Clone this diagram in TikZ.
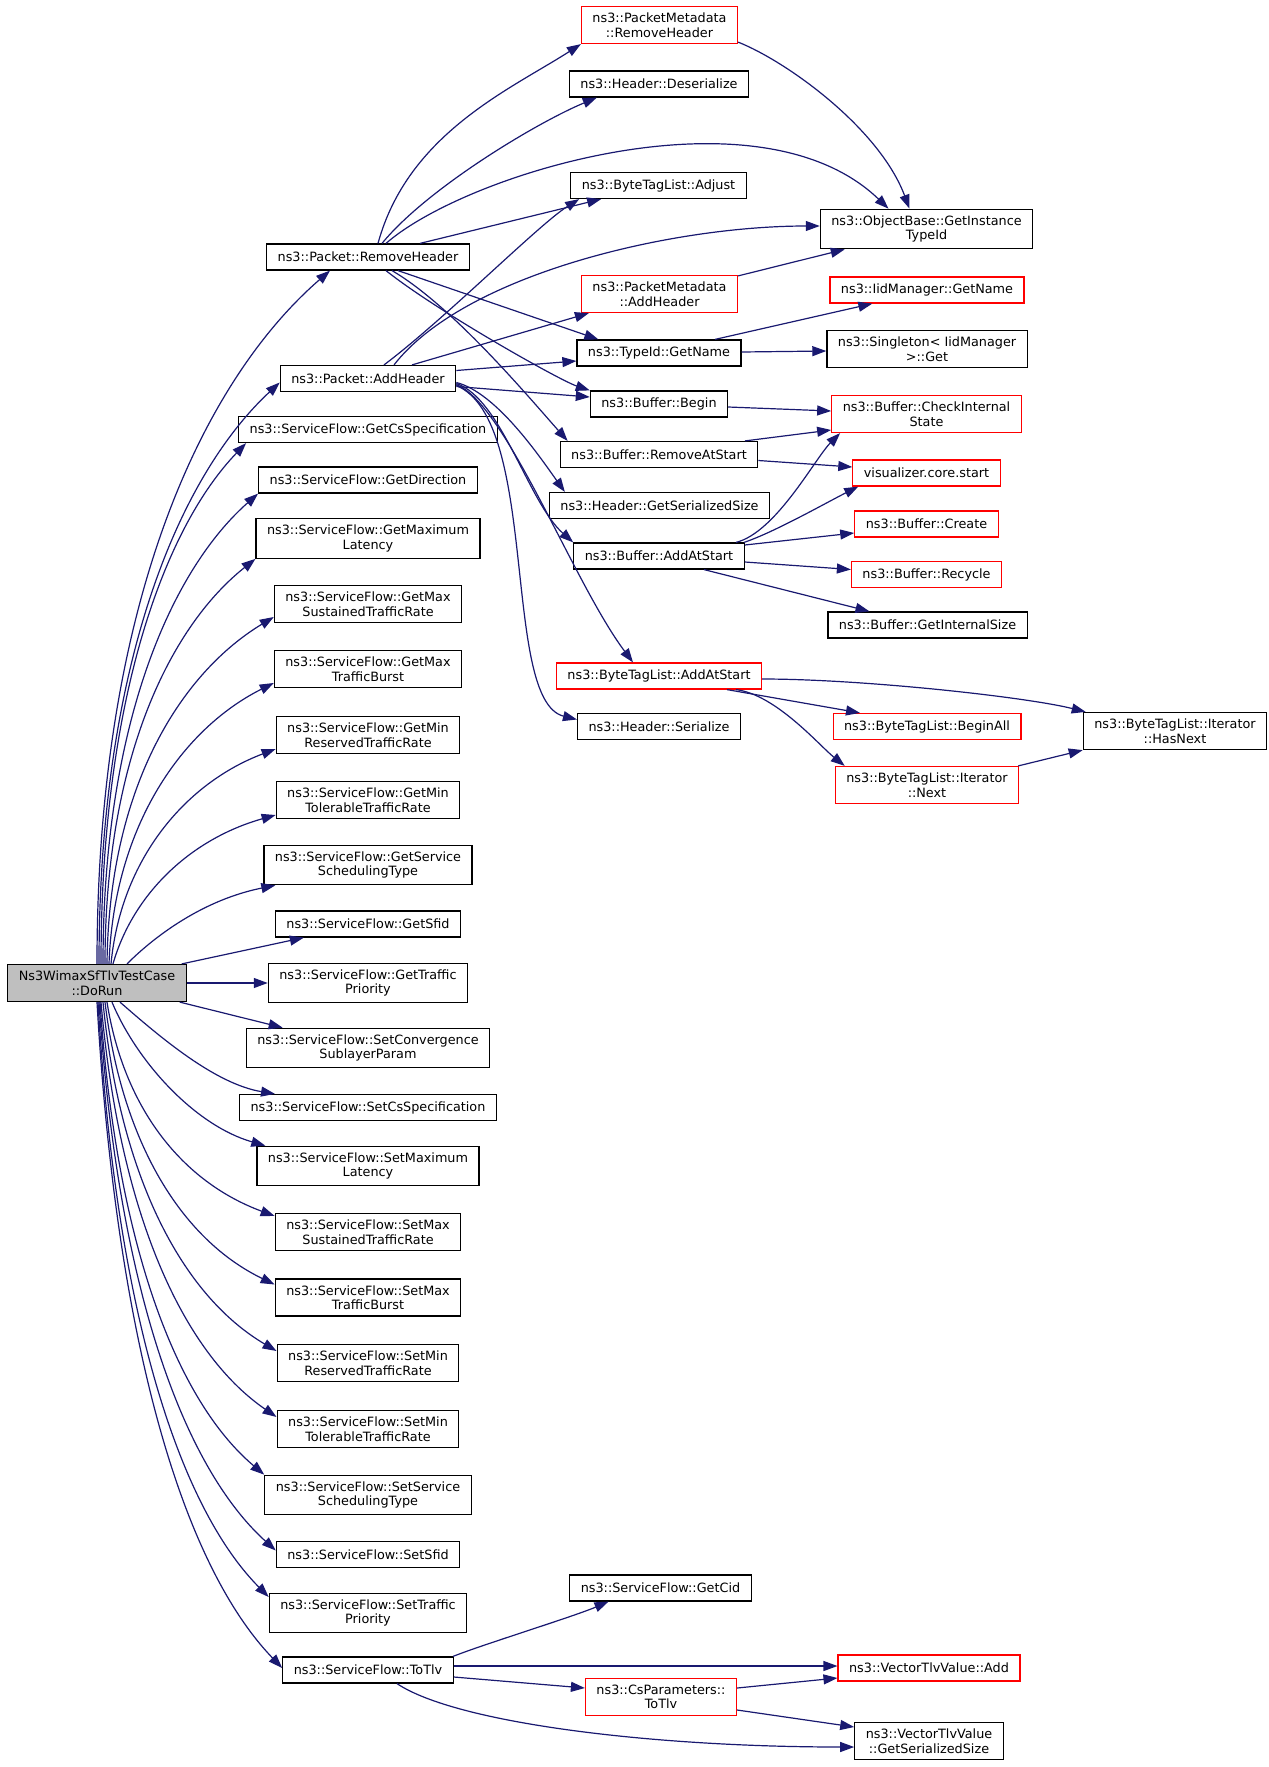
\documentclass[tikz,border=0pt]{standalone}
\usepackage{fontspec}
\setmainfont{DejaVu Sans}
\usepackage{tikz}
\usetikzlibrary{arrows.meta}

\definecolor{edgeblue}{HTML}{191970}
\definecolor{nodegray}{HTML}{BFBFBF}
\tikzset{
  fn/.style={draw=black, line width=1.2pt, fill=white, align=center,
    inner xsep=11pt, inner ysep=6.3pt, minimum height=26pt,
    font=\fontsize{12.8}{14.5}\selectfont},
  fnred/.style={fn, draw=red},
  edge/.style={draw=edgeblue, line width=1.2pt, -{Triangle[length=14pt,width=10pt]}},
}

\begin{document}
\begin{tikzpicture}[x=1pt,y=1pt]
\useasboundingbox (0,0) rectangle (1269,-1767);

% caller
\node[fn, fill=nodegray] (dorun) at (97,-983) {Ns3WimaxSfTlvTestCase\\::DoRun};

% first level
\node[fn] (prh) at (368,-257) {ns3::Packet::RemoveHeader};
\node[fn] (pah) at (368,-378.5) {ns3::Packet::AddHeader};
\node[fn] (gcs) at (368,-429.5) {ns3::ServiceFlow::GetCsSpecification};
\node[fn] (gdir) at (368,-480) {ns3::ServiceFlow::GetDirection};
\node[fn] (gmaxl) at (368,-538.5) {ns3::ServiceFlow::GetMaximum\\Latency};
\node[fn] (gmaxs) at (368,-604) {ns3::ServiceFlow::GetMax\\SustainedTrafficRate};
\node[fn] (gmaxb) at (368,-669) {ns3::ServiceFlow::GetMax\\TrafficBurst};
\node[fn] (gminr) at (368,-735) {ns3::ServiceFlow::GetMin\\ReservedTrafficRate};
\node[fn] (gmint) at (368,-800) {ns3::ServiceFlow::GetMin\\TolerableTrafficRate};
\node[fn] (gsvc) at (368,-865) {ns3::ServiceFlow::GetService\\SchedulingType};
\node[fn] (gsfid) at (368,-924) {ns3::ServiceFlow::GetSfid};
\node[fn] (gtp) at (368,-983) {ns3::ServiceFlow::GetTraffic\\Priority};
\node[fn] (scsp) at (368,-1048) {ns3::ServiceFlow::SetConvergence\\SublayerParam};
\node[fn] (scs) at (368,-1107.5) {ns3::ServiceFlow::SetCsSpecification};
\node[fn] (smaxl) at (368,-1166) {ns3::ServiceFlow::SetMaximum\\Latency};
\node[fn] (smaxs) at (368,-1232) {ns3::ServiceFlow::SetMax\\SustainedTrafficRate};
\node[fn] (smaxb) at (368,-1297.5) {ns3::ServiceFlow::SetMax\\TrafficBurst};
\node[fn] (sminr) at (368,-1363) {ns3::ServiceFlow::SetMin\\ReservedTrafficRate};
\node[fn] (smint) at (368,-1429) {ns3::ServiceFlow::SetMin\\TolerableTrafficRate};
\node[fn] (ssvc) at (368,-1495) {ns3::ServiceFlow::SetService\\SchedulingType};
\node[fn] (ssfid) at (368,-1554.5) {ns3::ServiceFlow::SetSfid};
\node[fn] (stp) at (368,-1613) {ns3::ServiceFlow::SetTraffic\\Priority};
\node[fn] (totlv) at (368,-1670) {ns3::ServiceFlow::ToTlv};

% second level
\node[fnred] (pmrh) at (659.5,-25) {ns3::PacketMetadata\\::RemoveHeader};
\node[fn] (hdes) at (659,-84) {ns3::Header::Deserialize};
\node[fn] (btadj) at (658.5,-185.5) {ns3::ByteTagList::Adjust};
\node[fnred] (pmah) at (659.5,-294) {ns3::PacketMetadata\\::AddHeader};
\node[fn] (tidgn) at (659,-353) {ns3::TypeId::GetName};
\node[fn] (bbeg) at (659,-404) {ns3::Buffer::Begin};
\node[fn] (brem) at (659,-454.5) {ns3::Buffer::RemoveAtStart};
\node[fn] (hgss) at (659.5,-505.5) {ns3::Header::GetSerializedSize};
\node[fn] (badd) at (659,-556) {ns3::Buffer::AddAtStart};
\node[fnred] (btaas) at (659,-676) {ns3::ByteTagList::AddAtStart};
\node[fn] (hser) at (659,-726.5) {ns3::Header::Serialize};
\node[fn] (sfcid) at (660.5,-1588) {ns3::ServiceFlow::GetCid};
\node[fnred] (cstlv) at (661,-1697) {ns3::CsParameters::\\ToTlv};

% third level
\node[fn] (obgit) at (926.5,-229) {ns3::ObjectBase::GetInstance\\TypeId};
\node[fnred] (iidgn) at (927,-290) {ns3::IidManager::GetName};
\node[fn] (sing) at (927,-349) {ns3::Singleton< IidManager\\>::Get};
\node[fnred] (bcis) at (926.5,-414) {ns3::Buffer::CheckInternal\\State};
\node[fnred] (vcs) at (926.5,-473) {visualizer.core.start};
\node[fnred] (bcre) at (926.5,-524) {ns3::Buffer::Create};
\node[fnred] (brec) at (926.5,-574.5) {ns3::Buffer::Recycle};
\node[fn] (bgis) at (927.5,-625) {ns3::Buffer::GetInternalSize};
\node[fnred] (btba) at (927,-726.5) {ns3::ByteTagList::BeginAll};
\node[fnred] (itnx) at (927,-785) {ns3::ByteTagList::Iterator\\::Next};
\node[fnred] (vtadd) at (929,-1668) {ns3::VectorTlvValue::Add};
\node[fn] (vtgss) at (929,-1741) {ns3::VectorTlvValue\\::GetSerializedSize};
\node[fn] (ithn) at (1175,-731) {ns3::ByteTagList::Iterator\\::HasNext};

% DoRun calls, upwards
\draw[edge] (dorun.north) .. controls +(0,360) and +(-128,-111) .. ([xshift=-38]prh.south);
\draw[edge] ([xshift=2]dorun.north) .. controls +(0,302) and +(-100,-93) .. ([yshift=-4]pah.west);
\draw[edge] ([xshift=4]dorun.north) .. controls +(0,269) and +(-80,-83) .. ([xshift=8]gcs.south west);
\draw[edge] ([xshift=6]dorun.north) .. controls +(0,244) and +(-85,-75) .. (gdir.south west);
\draw[edge] ([xshift=8]dorun.north) .. controls +(0,211) and +(-82,-65) .. (gmaxl.south west);
\draw[edge] ([xshift=10]dorun.north) .. controls +(2,180) and +(-91,-55) .. ([yshift=-13]gmaxs.west);
\draw[edge] ([xshift=12]dorun.north) .. controls +(5,140) and +(-90,-45) .. ([yshift=-14]gmaxb.west);
\draw[edge] ([xshift=14]dorun.north) .. controls +(10,105) and +(-90,-34) .. ([yshift=-14]gminr.west);
\draw[edge] ([xshift=16]dorun.north) .. controls +(20,70) and +(-85,-24) .. ([yshift=-15]gmint.west);
\draw[edge] ([xshift=30]dorun.north) .. controls +(30,30) and +(-70,-14) .. ([xshift=12]gsvc.south west);
\draw[edge] ([xshift=-5]dorun.north east) -- ([xshift=29]gsfid.south west);
\draw[edge] (dorun.east) -- (gtp.west);

% DoRun calls, downwards
\draw[edge] ([xshift=-7]dorun.south east) -- ([xshift=37]scsp.north west);
\draw[edge] ([xshift=23]dorun.south) .. controls +(40,-35) and +(-60,10) .. ([xshift=36]scs.north west);
\draw[edge] ([xshift=15]dorun.south) .. controls +(25,-60) and +(-70,20) .. ([xshift=9]smaxl.north west);
\draw[edge] ([xshift=10]dorun.south) .. controls +(17,-107) and +(-92,34) .. ([yshift=16]smaxs.west);
\draw[edge] ([xshift=8]dorun.south) .. controls +(17,-141) and +(-93,45) .. ([yshift=13]smaxb.west);
\draw[edge] ([xshift=6]dorun.south) .. controls +(17,-174) and +(-95,56) .. ([yshift=12]sminr.west);
\draw[edge] ([xshift=4]dorun.south) .. controls +(18,-207) and +(-96,66) .. ([yshift=12]smint.west);
\draw[edge] ([xshift=3]dorun.south) .. controls +(16,-237) and +(-90,76) .. (ssvc.north west);
\draw[edge] ([xshift=2]dorun.south) .. controls +(18,-274) and +(-97,88) .. ([yshift=4]ssfid.west);
\draw[edge] ([xshift=1]dorun.south) .. controls +(17,-297) and +(-94,95) .. ([yshift=16]stp.west);
\draw[edge] (dorun.south) .. controls +(19,-333) and +(-102,106) .. ([yshift=2]totlv.west);

% Packet::RemoveHeader
\draw[edge] ([xshift=10]prh.north) .. controls +(30,110) and +(-70,-45) .. (pmrh.south west);
\draw[edge] ([xshift=14]prh.north) .. controls +(45,55) and +(-60,-25) .. ([xshift=28]hdes.south west);
\draw[edge] ([xshift=18]prh.north) .. controls +(80,70) and +(-130,125) .. ([xshift=-38]obgit.north);
\draw[edge] ([xshift=52]prh.north) -- ([xshift=31]btadj.south west);
\draw[edge] ([xshift=30]prh.south) -- ([xshift=22]tidgn.north west);
\draw[edge] ([xshift=18]prh.south) .. controls +(50,-40) and +(-30,10) .. (bbeg.north west);
\draw[edge] ([xshift=24]prh.south) .. controls +(60,-35) and +(-40,45) .. ([xshift=8]brem.north west);

% Packet::AddHeader
\draw[edge] ([xshift=16]pah.north) .. controls +(60,45) and +(-40,-25) .. ([xshift=9]btadj.south west);
\draw[edge] ([xshift=26]pah.north) .. controls +(70,90) and +(-150,0) .. ([yshift=3]obgit.west);
\draw[edge] ([xshift=44]pah.north) -- ([xshift=8]pmah.south west);
\draw[edge] ([yshift=8]pah.east) -- ([yshift=-8]tidgn.west);
\draw[edge] ([yshift=-8]pah.east) -- ([yshift=7]bbeg.west);
\draw[edge] ([yshift=-4]pah.east) .. controls +(40,-10) and +(-25,35) .. ([xshift=16]hgss.north west);
\draw[edge] ([yshift=-5]pah.east) .. controls +(45,-15) and +(-45,40) .. (badd.north west);
\draw[edge] ([yshift=-6]pah.east) .. controls +(50,-20) and +(-60,80) .. ([xshift=-26]btaas.north);
\draw[edge] ([yshift=-7]pah.east) .. controls +(84,-35) and +(-76,19) .. ([yshift=7]hser.west);

% second level calls
\draw[edge] ([yshift=2]pmrh.south east) .. controls +(50,-20) and +(-30,80) .. ([xshift=-17]obgit.north);
\draw[edge] ([yshift=-1]pmah.north east) -- ([xshift=25]obgit.south west);
\draw[edge] ([xshift=56]tidgn.north) -- ([xshift=43]iidgn.south west);
\draw[edge] ([yshift=1]tidgn.east) -- ([yshift=-2]sing.west);
\draw[edge] ([yshift=-3]bbeg.east) -- ([yshift=3]bcis.west);
\draw[edge] ([xshift=86]brem.north) -- ([yshift=-16]bcis.west);
\draw[edge] ([yshift=-6]brem.east) -- ([yshift=6]vcs.west);
\draw[edge] ([xshift=77]badd.north) .. controls +(40,10) and +(-25,-25) .. ([xshift=9]bcis.south west);
\draw[edge] ([xshift=85]badd.north) .. controls +(30,10) and +(-30,-15) .. ([xshift=6]vcs.south west);
\draw[edge] ([yshift=11]badd.east) -- ([yshift=-9]bcre.west);
\draw[edge] ([yshift=-6]badd.east) -- ([yshift=5]brec.west);
\draw[edge] ([xshift=45]badd.south) -- ([xshift=-58]bgis.north);
\draw[edge] ([yshift=-3]btaas.east) .. controls +(100,0) and +(-60,15) .. ([xshift=3]ithn.north west);
\draw[edge] ([xshift=68]btaas.south) -- ([xshift=-67]btba.north);
\draw[edge] ([xshift=77]btaas.south) .. controls +(40,-5) and +(-25,20) .. ([xshift=10]itnx.north west);
\draw[edge] ([xshift=-1]itnx.north east) -- (ithn.south west);

% ServiceFlow::ToTlv
\draw[edge] ([xshift=85]totlv.north) .. controls +(30,12) and +(-35,-15) .. ([xshift=-52]sfcid.south);
\draw[edge] ([yshift=4]totlv.east) -- ([yshift=2]vtadd.west);
\draw[edge] ([yshift=-7]totlv.east) -- ([yshift=9]cstlv.west);
\draw[edge] ([xshift=29]totlv.south) .. controls +(60,-40) and +(-200,0) .. ([yshift=-6]vtgss.west);
\draw[edge] ([yshift=9]cstlv.east) -- ([yshift=-10]vtadd.west);
\draw[edge] ([yshift=-13]cstlv.east) -- ([yshift=14]vtgss.west);
\end{tikzpicture}
\end{document}
